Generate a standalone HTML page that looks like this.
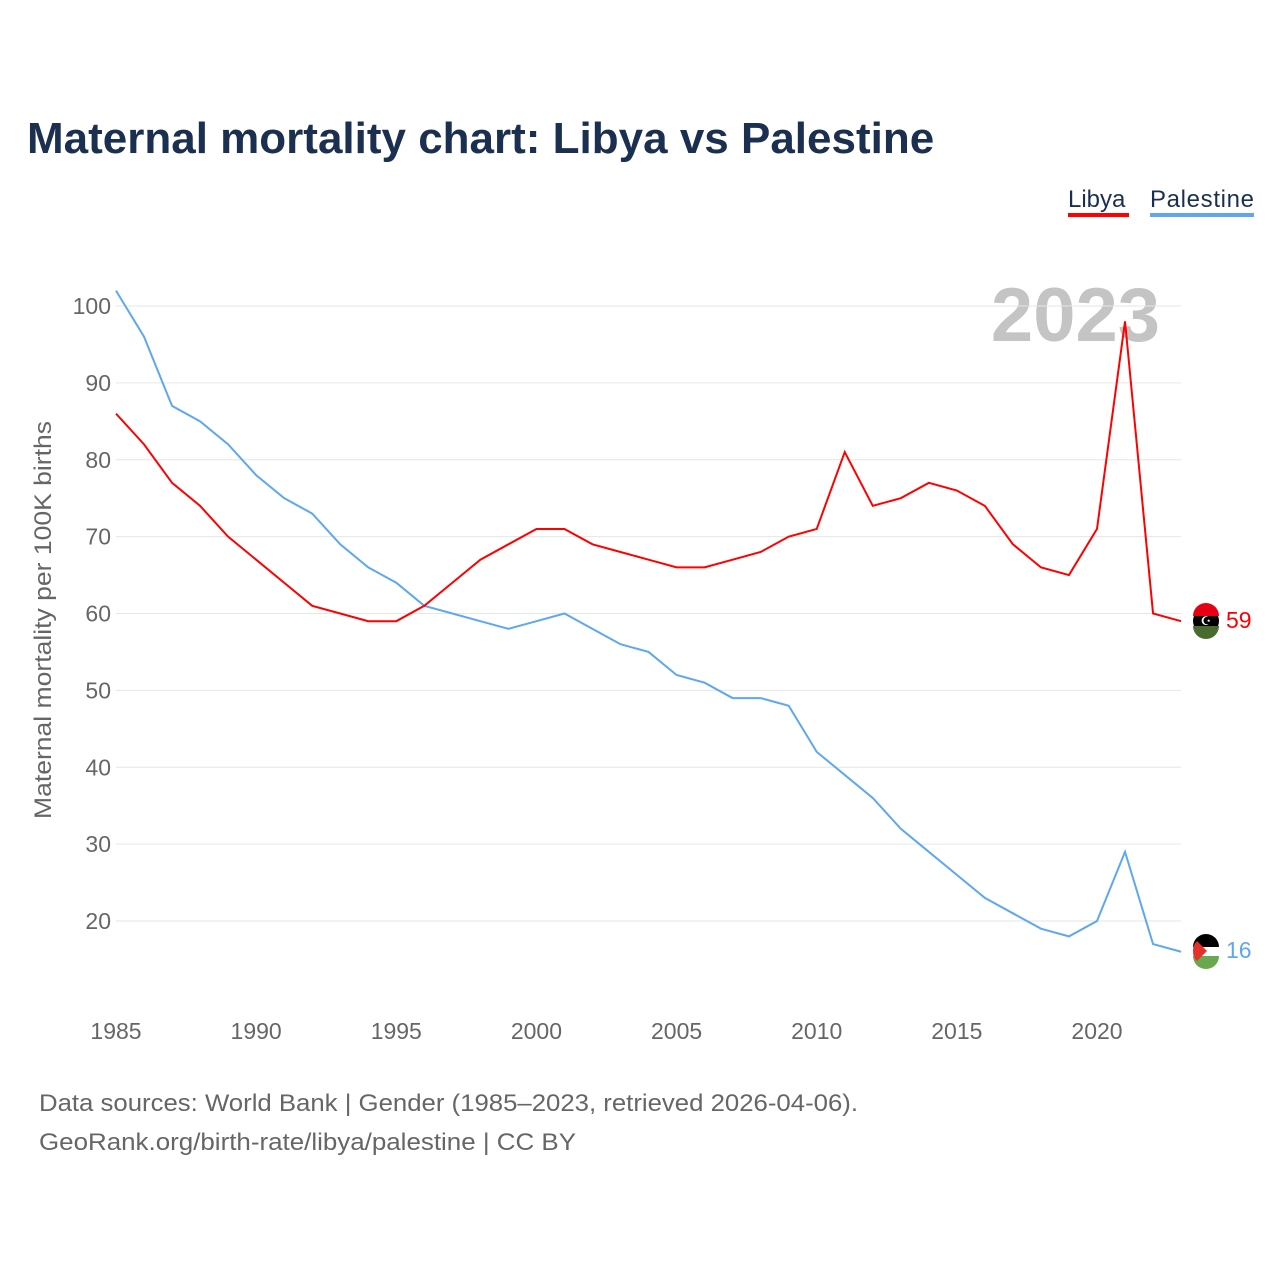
<!DOCTYPE html>
<html><head><meta charset="utf-8">
<style>
body{margin:0;background:#fff;font-family:"Liberation Sans",sans-serif;}
svg text{font-family:"Liberation Sans",sans-serif;}
</style></head>
<body>
<svg id="chart" width="1280" height="1280" viewBox="0 0 1280 1280" xmlns="http://www.w3.org/2000/svg">
<text x="27" y="153" font-size="44" font-weight="bold" fill="#1b3050">Maternal mortality chart: Libya vs Palestine</text>
<g>
<text x="1068" y="207" font-size="24" fill="#1b3050">Libya</text>
<rect x="1068" y="213" width="61" height="4" fill="#ff0000"/>
<text x="1150" y="207" font-size="24" fill="#1b3050" textLength="104">Palestine</text>
<rect x="1150" y="213" width="104" height="4" fill="#5ea8ee"/>
</g>
<text x="1160" y="341" text-anchor="end" font-size="76" font-weight="bold" fill="#c4c4c4">2023</text>
<g id="grid"></g>
<g id="xticks"></g>
<text transform="translate(51,620) rotate(-90)" text-anchor="middle" font-size="24" fill="#666" textLength="398" lengthAdjust="spacingAndGlyphs">Maternal mortality per 100K births</text>
<g id="lines"></g>
<g>
<circle cx="1206" cy="621" r="13" fill="#000"/>
<path d="M1193,616 a13,13 0 0 1 26,0z" fill="#e70013"/>
<path d="M1193,626 h26 a13,13 0 0 1 -26,0z" fill="#4a6b2f"/>
<text x="1206" y="625" text-anchor="middle" font-size="12" fill="#fff">☪</text>
</g>
<g>
<circle cx="1206" cy="951" r="13" fill="#fff"/>
<path d="M1193,947 a13,13 0 0 1 26,0z" fill="#000"/>
<path d="M1193,956 h26 a13,13 0 0 1 -26,0z" fill="#6aa84f"/>
<path d="M1193,951 a13,13 0 0 1 4,-10 l10,10 l-10,10 a13,13 0 0 1 -4,-10z" fill="#e4312b"/>
</g>
<text x="1226" y="628" font-size="23" fill="#ff0000">59</text>
<text x="1226" y="958" font-size="23" fill="#5ea8ee">16</text>
<text x="39" y="1111" font-size="24" fill="#666" textLength="819" lengthAdjust="spacingAndGlyphs">Data sources: World Bank | Gender (1985–2023, retrieved 2026-04-06).</text>
<text x="39" y="1150" font-size="24" fill="#666" textLength="537" lengthAdjust="spacingAndGlyphs">GeoRank.org/birth-rate/libya/palestine | CC BY</text>
</svg>
<script>
const years=[];for(let y=1985;y<=2023;y++)years.push(y);
const libya=[86,82,77,74,70,67,64,61,60,59,59,61,64,67,69,71,71,69,68,67,66,66,67,68,70,71,81,74,75,77,76,74,69,66,65,71,98,60,59];
const palestine=[102,96,87,85,82,78,75,73,69,66,64,61,60,59,58,59,60,58,56,55,52,51,49,49,48,42,39,36,32,29,26,23,21,19,18,20,29,17,16];
const yTicks=[20,30,40,50,60,70,80,90,100];
const xTicks=[1985,1990,1995,2000,2005,2010,2015,2020];
const NS="http://www.w3.org/2000/svg";
const xs=y=>116+(y-1985)*(1097-116)/35;
const ys=v=>306+(100-v)*7.6875;
const grid=document.getElementById('grid');
yTicks.forEach(t=>{
 const l=document.createElementNS(NS,'line');
 l.setAttribute('x1',116);l.setAttribute('x2',1181);l.setAttribute('y1',ys(t));l.setAttribute('y2',ys(t));
 l.setAttribute('stroke','#e6e6e6');l.setAttribute('stroke-width','1');
 
 
 grid.appendChild(l);
 const tx=document.createElementNS(NS,'text');
 tx.setAttribute('x',111);tx.setAttribute('y',ys(t)+8);tx.setAttribute('text-anchor','end');
 tx.setAttribute('font-size','23');tx.setAttribute('fill','#666');tx.textContent=t;
 
 
 grid.appendChild(tx);
});
const xt=document.getElementById('xticks');
xTicks.forEach(t=>{
 const tx=document.createElementNS(NS,'text');
 tx.setAttribute('x',xs(t));tx.setAttribute('y',1039);tx.setAttribute('text-anchor','middle');
 tx.setAttribute('font-size','23');tx.setAttribute('fill','#666');tx.textContent=t;
 
 
 xt.appendChild(tx);
});
const lines=document.getElementById('lines');
function draw(vals,color,name){
 const p=document.createElementNS(NS,'polyline');
 p.setAttribute('points',vals.map((v,i)=>xs(years[i])+','+ys(v)).join(' '));
 p.setAttribute('fill','none');p.setAttribute('stroke',color);p.setAttribute('stroke-width','2');
 
 
 lines.appendChild(p);
}
draw(palestine,'#5ea8ee','line-palestine');
draw(libya,'#ff0000','line-libya');
</script>
</body></html>
